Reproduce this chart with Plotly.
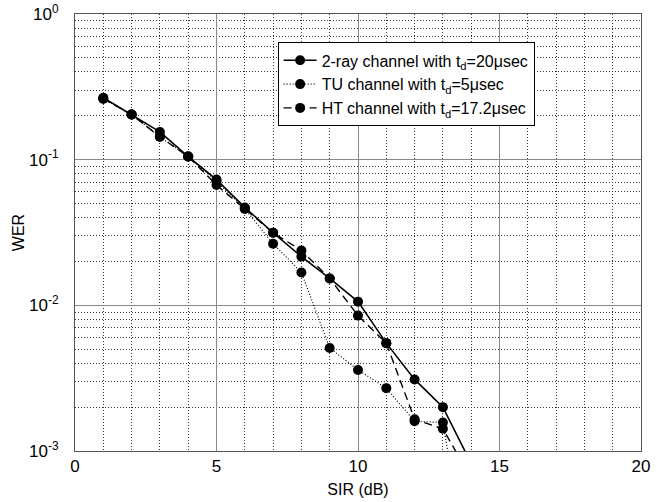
import plotly.graph_objects as go

# SIR in dB and word error rate for each channel model
sir_db = [1, 2, 3, 4, 5, 6, 7, 8, 9, 10, 11, 12, 13, 14]
wer_two_ray = [0.266, 0.204, 0.155, 0.105, 0.073, 0.047, 0.0315, 0.0216, 0.0153, 0.0106, 0.0055, 0.0031, 0.0020, 0.00082]
wer_tu = [0.262, 0.204, 0.1435, 0.105, 0.071, 0.046, 0.0265, 0.0168, 0.0051, 0.0036, 0.0027, 0.0016, 0.00157, 0.00011]
wer_ht = [0.262, 0.204, 0.1435, 0.105, 0.067, 0.046, 0.0315, 0.0238, 0.0153, 0.0085, 0.0055, 0.00165, 0.00142, 0.00065]

series_names = [
    "2-ray channel with t<sub>d</sub>=20\u03bcsec",
    "TU channel with t<sub>d</sub>=5\u03bcsec",
    "HT channel with t<sub>d</sub>=17.2\u03bcsec",
]

x_ticks = [0, 5, 10, 15, 20]
y_ticks = [1e-3, 1e-2, 1e-1, 1]
y_tick_text = ["10<sup>-3</sup>", "10<sup>-2</sup>", "10<sup>-1</sup>", "10<sup>0</sup>"]
y_minor = [m * 10.0 ** e for e in (-3, -2, -1) for m in range(2, 10)]

FONT = "Liberation Sans, Arial, Helvetica, sans-serif"
MINOR_GRID = dict(showgrid=True, gridcolor="#333", griddash="1px,2px", gridwidth=1)

fig = go.Figure()
styles = [
    (wer_two_ray, dict(color="black", width=1.6, dash="solid")),
    (wer_tu, dict(color="black", width=1.2, dash="1px,2px")),
    (wer_ht, dict(color="black", width=1.4, dash="8px,5px")),
]
for name, (vals, line) in zip(series_names, styles):
    fig.add_trace(go.Scatter(
        x=sir_db, y=vals, name=name, mode="lines+markers",
        line=line, marker=dict(symbol="circle", size=10, color="black"),
    ))

fig.update_layout(
    width=659, height=502,
    margin=dict(l=75, r=18, t=14, b=51),
    paper_bgcolor="white", plot_bgcolor="white",
    font=dict(family=FONT, size=16, color="black"),
    showlegend=True,
    legend=dict(
        x=0.358, y=0.935, xanchor="left", yanchor="top",
        bgcolor="white", bordercolor="black", borderwidth=1,
        font=dict(size=16, family=FONT), tracegroupgap=0,
        itemwidth=33,
    ),
)

fig.update_xaxes(
    range=[0, 20], tickmode="array", tickvals=x_ticks,
    ticks="", showline=True, linecolor="#555", linewidth=1, mirror=True,
    showgrid=True, gridcolor="#888", gridwidth=1,
    minor=dict(dtick=1, **MINOR_GRID),
    zeroline=False, automargin=False,
    title=dict(text="SIR (dB)", font=dict(size=16), standoff=8),
    tickfont=dict(size=17),
)
fig.update_yaxes(
    type="log", range=[-3, 0], tickmode="array", tickvals=y_ticks, ticktext=y_tick_text,
    ticks="", showline=True, linecolor="#555", linewidth=1, mirror=True,
    showgrid=True, gridcolor="#888", gridwidth=1,
    minor=dict(tickmode="array", tickvals=y_minor, **MINOR_GRID),
    zeroline=False, automargin=False, ticklabelstandoff=12,
    title=dict(text="WER", font=dict(size=16), standoff=0),
    tickfont=dict(size=17),
)

fig.write_html("out.html")
